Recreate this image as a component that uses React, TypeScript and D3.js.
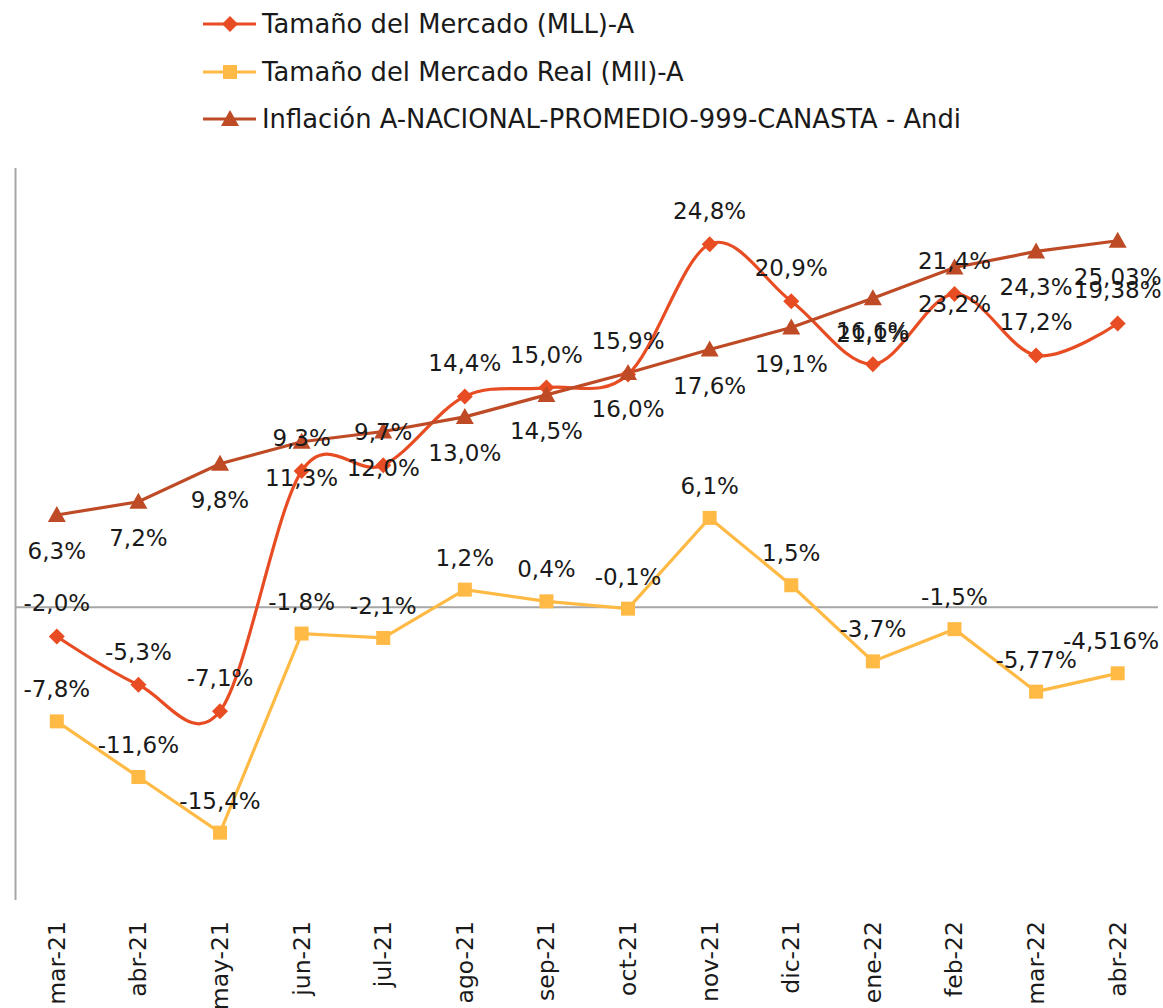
import React from "react";
import * as d3 from "d3";

const categories = ["mar-21","abr-21","may-21","jun-21","jul-21","ago-21","sep-21","oct-21","nov-21","dic-21","ene-22","feb-22","mar-22","abr-22"];
const mercadoMLL = [-2.0,-5.3,-7.1,9.3,9.7,14.4,15.0,15.9,24.8,20.9,16.6,21.4,17.2,19.38];
const mercadoMLLLabels = ["-2,0%","-5,3%","-7,1%","9,3%","9,7%","14,4%","15,0%","15,9%","24,8%","20,9%","16,6%","21,4%","17,2%","19,38%"];
const mercadoReal = [-7.8,-11.6,-15.4,-1.8,-2.1,1.2,0.4,-0.1,6.1,1.5,-3.7,-1.5,-5.77,-4.516];
const mercadoRealLabels = ["-7,8%","-11,6%","-15,4%","-1,8%","-2,1%","1,2%","0,4%","-0,1%","6,1%","1,5%","-3,7%","-1,5%","-5,77%","-4,516%"];
const inflacion = [6.3,7.2,9.8,11.3,12.0,13.0,14.5,16.0,17.6,19.1,21.1,23.2,24.3,25.03];
const inflacionLabels = ["6,3%","7,2%","9,8%","11,3%","12,0%","13,0%","14,5%","16,0%","17,6%","19,1%","21,1%","23,2%","24,3%","25,03%"];
const legendNames = [
  "Tamaño del Mercado (MLL)-A",
  "Tamaño del Mercado Real (Mll)-A",
  "Inflación A-NACIONAL-PROMEDIO-999-CANASTA - Andi",
];

const C_MLL = "#E84C22";
const C_REAL = "#FFBA45";
const C_INF = "#BE4B26";
const FONT = "'DejaVu Sans', sans-serif";

function Marker({ type, x, y, color }: { type: string; x: number; y: number; color: string }) {
  if (type === "diamond") {
    const s = 8;
    return <path d={`M${x},${y - s}L${x + s},${y}L${x},${y + s}L${x - s},${y}Z`} fill={color} />;
  }
  if (type === "square") {
    const s = 7;
    return <rect x={x - s} y={y - s} width={2 * s} height={2 * s} fill={color} />;
  }
  const s = 9;
  return <path d={`M${x},${y - s}L${x + s},${y + 7}L${x - s},${y + 7}Z`} fill={color} />;
}

export default function App() {
  const W = 1163, H = 1008;
  const x = d3.scaleBand<string>().domain(categories).range([16, 1158.5]).padding(0);
  const cx = (c: string) => (x(c) as number) + x.bandwidth() / 2;
  const y = d3.scaleLinear().domain([-20, 30]).range([900, 168]);

  const smooth = d3.line<number>().x((_, i) => cx(categories[i])).y((d) => y(d)).curve(d3.curveCatmullRom.alpha(0));
  const straight = d3.line<number>().x((_, i) => cx(categories[i])).y((d) => y(d));

  const series = [
    { vals: mercadoMLL, labels: mercadoMLLLabels, color: C_MLL, marker: "diamond", gen: smooth, dy: -33 },
    { vals: mercadoReal, labels: mercadoRealLabels, color: C_REAL, marker: "square", gen: straight, dy: -32 },
    { vals: inflacion, labels: inflacionLabels, color: C_INF, marker: "triangle", gen: straight, dy: 36 },
  ];
  const legendTypes = [
    { color: C_MLL, marker: "diamond" },
    { color: C_REAL, marker: "square" },
    { color: C_INF, marker: "triangle" },
  ];
  const legendY = [24, 72, 119];

  const labelX = (i: number, label: string) => {
    const px = cx(categories[i]);
    const w = label.length * 14;
    return Math.min(px, 1160 - w / 2);
  };

  return (
    <svg width={W} height={H} style={{ display: "block", position: "absolute", left: 0, top: 0, background: "#fff" }} fontFamily={FONT}>
      <rect width={W} height={H} fill="#fff" />
      {legendNames.map((n, i) => (
        <g key={n}>
          <line x1={203} x2={256} y1={legendY[i]} y2={legendY[i]} stroke={legendTypes[i].color} strokeWidth={3} />
          <Marker type={legendTypes[i].marker} x={230} y={legendY[i]} color={legendTypes[i].color} />
          <text x={262} y={legendY[i]} dominantBaseline="central" fontSize={25.8} fill="#1a1a1a">{n}</text>
        </g>
      ))}
      <line x1={15.5} x2={15.5} y1={y(30)} y2={y(-20)} stroke="#A6A6A6" strokeWidth={2} />
      <line x1={15} x2={1158} y1={y(0)} y2={y(0)} stroke="#A6A6A6" strokeWidth={2} />
      {categories.map((c) => (
        <text key={c} transform={`translate(${cx(c)},921) rotate(-90)`} textAnchor="end" dominantBaseline="central" fontSize={23.5} fill="#1a1a1a">{c}</text>
      ))}
      {series.map((s, si) => (
        <path key={si} d={s.gen(s.vals) as string} fill="none" stroke={s.color} strokeWidth={3.2} />
      ))}
      {series.map((s, si) => (
        <g key={"m" + si}>
          {s.vals.map((v, i) => (
            <Marker key={i} type={s.marker} x={cx(categories[i])} y={y(v)} color={s.color} />
          ))}
        </g>
      ))}
      {series.map((s, si) => (
        <g key={"l" + si}>
          {s.vals.map((v, i) => (
            <text key={i} x={labelX(i, s.labels[i])} y={y(v) + s.dy} textAnchor="middle" dominantBaseline="central" fontSize={23} fill="#1a1a1a">{s.labels[i]}</text>
          ))}
        </g>
      ))}
    </svg>
  );
}
